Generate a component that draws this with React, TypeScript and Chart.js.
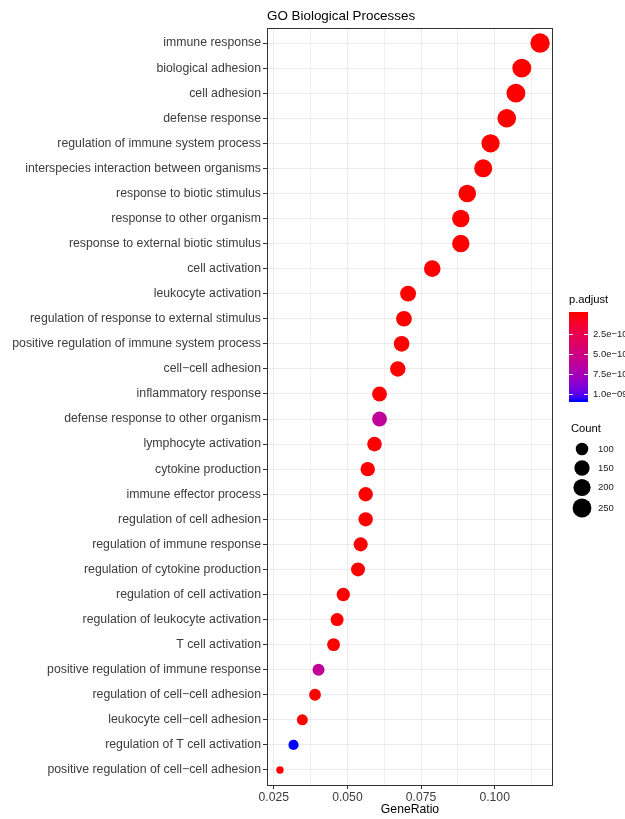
import React, { useEffect, useRef } from "react";
import { Chart, registerables } from "chart.js";

Chart.register(...registerables);

const terms: string[] = [
  "immune response",
  "biological adhesion",
  "cell adhesion",
  "defense response",
  "regulation of immune system process",
  "interspecies interaction between organisms",
  "response to biotic stimulus",
  "response to other organism",
  "response to external biotic stimulus",
  "cell activation",
  "leukocyte activation",
  "regulation of response to external stimulus",
  "positive regulation of immune system process",
  "cell\u2212cell adhesion",
  "inflammatory response",
  "defense response to other organism",
  "lymphocyte activation",
  "cytokine production",
  "immune effector process",
  "regulation of cell adhesion",
  "regulation of immune response",
  "regulation of cytokine production",
  "regulation of cell activation",
  "regulation of leukocyte activation",
  "T cell activation",
  "positive regulation of immune response",
  "regulation of cell\u2212cell adhesion",
  "leukocyte cell\u2212cell adhesion",
  "regulation of T cell activation",
  "positive regulation of cell\u2212cell adhesion",
];

const geneRatio: number[] = [
  0.1154, 0.1092, 0.1072, 0.1041, 0.0986, 0.0961, 0.0907, 0.0885, 0.0885, 0.0788,
  0.0706, 0.0692, 0.0684, 0.0671, 0.0609, 0.0609, 0.0592, 0.0569, 0.0562, 0.0562,
  0.0545, 0.0536, 0.0486, 0.0465, 0.0453, 0.0402, 0.039, 0.0347, 0.0317, 0.0271,
];

const counts: number[] = [
  291, 275, 270, 263, 249, 242, 229, 223, 223, 199,
  178, 175, 173, 169, 154, 154, 149, 144, 142, 142,
  137, 135, 123, 117, 114, 101, 98, 88, 80, 68,
];

const pAdjust: number[] = [
  2.1e-52, 4.3e-48, 1.5e-47, 6.2e-45, 3.4e-40, 8.8e-38, 2.7e-35, 5.1e-34, 7.9e-34, 1.2e-30,
  4.5e-26, 9.3e-25, 1.8e-24, 6.6e-24, 3.2e-16, 6.1e-10, 2.4e-19, 5.7e-18, 8.1e-17, 1.3e-17,
  4.8e-16, 9.9e-16, 2.6e-14, 7.3e-13, 1.9e-13, 6.0e-10, 3.8e-12, 5.5e-12, 1.07e-9, 2.2e-12,
];

const xTickValues: number[] = [0.025, 0.0375, 0.05, 0.0625, 0.075, 0.0875, 0.1, 0.1125];
const xMajorTicks: number[] = [0.025, 0.05, 0.075, 0.1];
const colorBreaks: number[] = [2.5e-10, 5.0e-10, 7.5e-10, 1.0e-9];
const colorBreakLabels: string[] = ["2.5e\u221210", "5.0e\u221210", "7.5e\u221210", "1.0e\u221209"];
const sizeBreaks: number[] = [100, 150, 200, 250];

const FONT = "'Liberation Sans', Arial, Helvetica, sans-serif";

// ---- colour scale (Lab interpolation red -> blue, like ggplot) ----
function srgbToLin(c: number) {
  c /= 255;
  return c <= 0.04045 ? c / 12.92 : Math.pow((c + 0.055) / 1.055, 2.4);
}
function linToSrgb(c: number) {
  const v = c <= 0.0031308 ? 12.92 * c : 1.055 * Math.pow(c, 1 / 2.4) - 0.055;
  return Math.round(Math.max(0, Math.min(1, v)) * 255);
}
function rgbToLab(r: number, g: number, b: number) {
  const R = srgbToLin(r), G = srgbToLin(g), B = srgbToLin(b);
  let X = (0.4124 * R + 0.3576 * G + 0.1805 * B) / 0.95047;
  let Y = 0.2126 * R + 0.7152 * G + 0.0722 * B;
  let Z = (0.0193 * R + 0.1192 * G + 0.9505 * B) / 1.08883;
  const f = (t: number) => (t > 0.008856 ? Math.cbrt(t) : 7.787 * t + 16 / 116);
  X = f(X); Y = f(Y); Z = f(Z);
  return [116 * Y - 16, 500 * (X - Y), 200 * (Y - Z)];
}
function labToRgb(L: number, a: number, b: number) {
  const fy = (L + 16) / 116, fx = fy + a / 500, fz = fy - b / 200;
  const fi = (t: number) => (t * t * t > 0.008856 ? t * t * t : (t - 16 / 116) / 7.787);
  const X = fi(fx) * 0.95047, Y = fi(fy), Z = fi(fz) * 1.08883;
  const R = 3.2406 * X - 1.5372 * Y - 0.4986 * Z;
  const G = -0.9689 * X + 1.8758 * Y + 0.0415 * Z;
  const B = 0.0557 * X - 0.204 * Y + 1.057 * Z;
  return `rgb(${linToSrgb(R)},${linToSrgb(G)},${linToSrgb(B)})`;
}
const LOW = rgbToLab(255, 0, 0);
const HIGH = rgbToLab(0, 0, 255);
const pMin = Math.min(...pAdjust);
const pMax = Math.max(...pAdjust);
function colorFor(p: number) {
  const t = Math.max(0, Math.min(1, (p - pMin) / (pMax - pMin)));
  return labToRgb(LOW[0] + (HIGH[0] - LOW[0]) * t, LOW[1] + (HIGH[1] - LOW[1]) * t, LOW[2] + (HIGH[2] - LOW[2]) * t);
}

// ---- size scale (area-like, ggplot scale_size) ----
const cMin = Math.min(...counts);
const cMax = Math.max(...counts);
function radiusFor(c: number) {
  const t = Math.max(0, (c - cMin) / (cMax - cMin));
  return (7.4 + 12 * Math.sqrt(t)) / 2;
}

const isMajor = (v: number) => xMajorTicks.some((m) => Math.abs(m - v) < 1e-9);

const decorPlugin = {
  id: "decor",
  afterDatasetsDraw(chart: any) {
    const { ctx, chartArea } = chart;
    ctx.save();
    ctx.strokeStyle = "#333333";
    ctx.lineWidth = 1;
    ctx.strokeRect(
      Math.round(chartArea.left) + 0.5,
      Math.round(chartArea.top) + 0.5,
      Math.round(chartArea.right - chartArea.left) - 1,
      Math.round(chartArea.bottom - chartArea.top)
    );
    ctx.restore();
  },
  afterDraw(chart: any) {
    const { ctx, chartArea } = chart;
    ctx.save();
    // title
    ctx.fillStyle = "#000000";
    ctx.font = `13.4px ${FONT}`;
    ctx.textAlign = "left";
    ctx.textBaseline = "alphabetic";
    ctx.fillText("GO Biological Processes", chartArea.left, 20);

    // p.adjust colourbar
    const barL = 569, barW = 19, barT = 312, barB = 402;
    const vTop = barT + 2, vBot = barB - 2;
    ctx.fillStyle = "#000000";
    ctx.font = `11.2px ${FONT}`;
    ctx.fillText("p.adjust", 569, 303);
    for (let y = barT; y < barB; y++) {
      const v = pMin + ((y + 0.5 - vTop) / (vBot - vTop)) * (pMax - pMin);
      ctx.fillStyle = colorFor(v);
      ctx.fillRect(barL, y, barW, 1);
    }
    ctx.strokeStyle = "#ffffff";
    ctx.lineWidth = 1;
    ctx.font = `9.5px ${FONT}`;
    ctx.textBaseline = "middle";
    colorBreaks.forEach((b, i) => {
      const y = vTop + ((b - pMin) / (pMax - pMin)) * (vBot - vTop);
      const yy = Math.round(y) + 0.5;
      ctx.beginPath();
      ctx.moveTo(barL, yy);
      ctx.lineTo(barL + 4, yy);
      ctx.moveTo(barL + barW - 4, yy);
      ctx.lineTo(barL + barW, yy);
      ctx.stroke();
      ctx.fillStyle = "#222222";
      ctx.fillText(colorBreakLabels[i], 593, y);
    });

    // Count legend
    ctx.fillStyle = "#000000";
    ctx.font = `11.2px ${FONT}`;
    ctx.textBaseline = "alphabetic";
    ctx.fillText("Count", 571, 432);
    const centers = [449, 468, 487.5, 508];
    sizeBreaks.forEach((s, i) => {
      ctx.fillStyle = "#000000";
      ctx.beginPath();
      ctx.arc(582, centers[i], radiusFor(s) + 0.3, 0, Math.PI * 2);
      ctx.fill();
      ctx.fillStyle = "#222222";
      ctx.font = `9.5px ${FONT}`;
      ctx.textBaseline = "middle";
      ctx.fillText(String(s), 598, centers[i]);
    });
    ctx.restore();
  },
};

export default function App() {
  const ref = useRef<HTMLCanvasElement>(null);
  useEffect(() => {
    document.body.style.margin = "0";
    const canvas = ref.current!;
    const chart = new Chart(canvas, {
      type: "scatter",
      data: {
        datasets: [
          {
            data: terms.map((_, i) => ({ x: geneRatio[i], y: i + 1 })),
            pointRadius: (c: any) => radiusFor(counts[c.dataIndex]),
            pointHoverRadius: (c: any) => radiusFor(counts[c.dataIndex]),
            pointBackgroundColor: (c: any) => colorFor(pAdjust[c.dataIndex]),
            pointBorderWidth: 0,
            pointBorderColor: "rgba(0,0,0,0)",
          },
        ],
      },
      options: {
        animation: false,
        responsive: false,
        events: [],
        layout: { padding: { left: 0, right: 72, top: 28, bottom: 0 } },
        plugins: { legend: { display: false }, tooltip: { enabled: false }, title: { display: false } },
        scales: {
          x: {
            type: "linear",
            min: 0.0227,
            max: 0.1198,
            afterBuildTicks: (s: any) => {
              s.ticks = xTickValues.map((v) => ({ value: v }));
            },
            afterFit: (s: any) => {
              s.height = 34;
            },
            border: { display: false },
            grid: {
              color: (c: any) => (c.tick && isMajor(c.tick.value) ? "#EBEBEB" : "#EFEFEF"),
              lineWidth: 1,
              drawTicks: true,
              tickLength: 4,
              tickWidth: 1,
              tickColor: (c: any) => (c.tick && isMajor(c.tick.value) ? "#333333" : "rgba(0,0,0,0)"),
            },
            ticks: {
              autoSkip: false,
              maxRotation: 0,
              padding: 1,
              color: "#3C3C3C",
              font: { family: FONT, size: 12.2 },
              callback: (v: any) => (isMajor(Number(v)) ? Number(v).toFixed(3) : ""),
            },
            title: {
              display: true,
              text: "GeneRatio",
              color: "#000000",
              font: { family: FONT, size: 12.2 },
              padding: { top: 2, bottom: 2 },
            },
          },
          y: {
            type: "linear",
            reverse: true,
            min: 0.4,
            max: 30.6,
            afterBuildTicks: (s: any) => {
              s.ticks = terms.map((_, i) => ({ value: i + 1 }));
            },
            afterFit: (s: any) => {
              s.width = 267;
            },
            border: { display: false },
            grid: {
              color: "#EBEBEB",
              lineWidth: 1,
              drawTicks: true,
              tickLength: 4,
              tickWidth: 1,
              tickColor: "#333333",
            },
            ticks: {
              autoSkip: false,
              padding: 2,
              color: "#3C3C3C",
              font: { family: FONT, size: 12.3 },
              callback: (v: any) => terms[Math.round(Number(v)) - 1] ?? "",
            },
          },
        },
      },
      plugins: [decorPlugin],
    } as any);
    return () => chart.destroy();
  }, []);
  return (
    <div style={{ position: "absolute", left: 0, top: 0, width: 625, height: 819 }}>
      <canvas ref={ref} width={625} height={819} style={{ display: "block", width: 625, height: 819 }} />
    </div>
  );
}
